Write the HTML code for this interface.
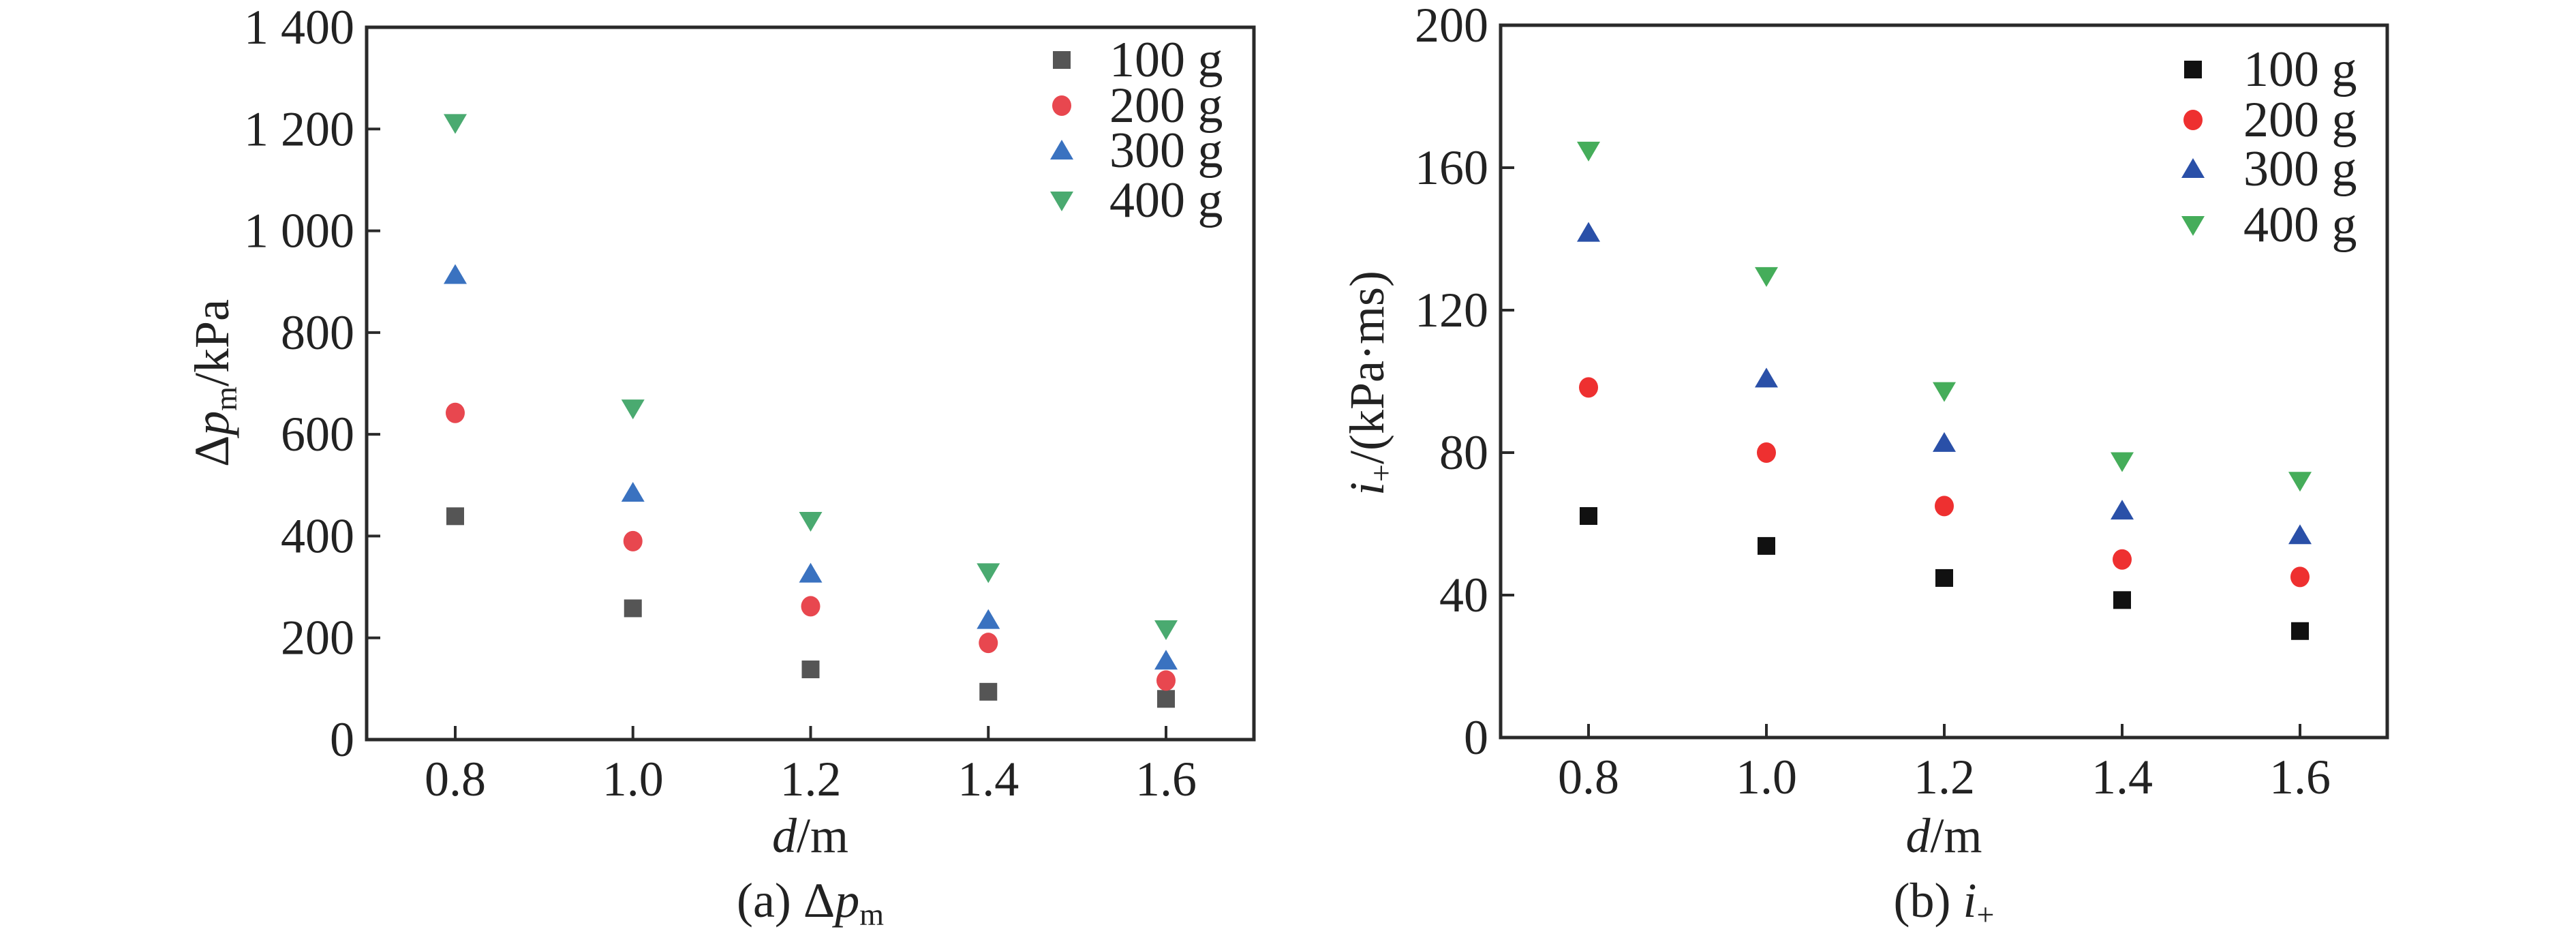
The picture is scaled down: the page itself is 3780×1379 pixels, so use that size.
<!DOCTYPE html>
<html><head><meta charset="utf-8"><style>
html,body{margin:0;padding:0;background:#fff;}
svg, svg text{font-family:"Liberation Serif","Times New Roman",serif;}
</style></head><body>
<svg id="fig" width="3780" height="1374" viewBox="0 0 3780 1374"></svg>
<script>
const categories = [0.8, 1.0, 1.2, 1.4, 1.6];
const seriesNames = ["100 g", "200 g", "300 g", "400 g"];
const dpm100 = [439, 258, 138, 94, 80];
const dpm200 = [642, 390, 262, 190, 116];
const dpm300 = [913, 485, 326, 235, 155];
const dpm400 = [1212, 651, 430, 329, 217];
const ip100 = [62.2, 53.8, 44.8, 38.6, 29.9];
const ip200 = [98.3, 80, 65, 50, 45.1];
const ip300 = [141.7, 100.8, 82.7, 63.7, 56.8];
const ip400 = [164.8, 129.6, 97.3, 77.6, 72.1];
const yTicksA = [0, 200, 400, 600, 800, 1000, 1200, 1400];
const yTickLabelsA = ["0", "200", "400", "600", "800", "1 000", "1 200", "1 400"];
const yTicksB = [0, 40, 80, 120, 160, 200];
const xTickLabels = ["0.8", "1.0", "1.2", "1.4", "1.6"];

const NS = "http://www.w3.org/2000/svg";
const svg = document.getElementById("fig");
function el(tag, attrs, parent) {
  const e = document.createElementNS(NS, tag);
  for (const k in attrs) e.setAttribute(k, attrs[k]);
  if (tag === "text") e.setAttribute("font-family", "Liberation Serif, Times New Roman, serif");
  (parent || svg).appendChild(e);
  return e;
}

function marker(g, shape, cx, cy, color) {
  let m;
  if (shape === 0) m = el("rect", {x: cx - 13, y: cy - 13, width: 26, height: 26, fill: color}, g);
  else if (shape === 1) m = el("ellipse", {cx: cx, cy: cy, rx: 14, ry: 15, fill: color}, g);
  else if (shape === 2) m = el("polygon", {points: `${cx},${cy - 16} ${cx + 17},${cy + 13} ${cx - 17},${cy + 13}`, fill: color}, g);
  else m = el("polygon", {points: `${cx - 17},${cy - 13} ${cx + 17},${cy - 13} ${cx},${cy + 16}`, fill: color}, g);
  return m;
}

function panel(cfg) {
  const g = el("g", {});
  
  
  const {L, R, T, B} = cfg;
  const xs = v => cfg.x08 + (v - 0.8) / 0.8 * (cfg.x16 - cfg.x08);
  const ys = v => B - v / cfg.ymax * (B - T);
  const frame = el("rect", {x: L, y: T, width: R - L, height: B - T, fill: "none", stroke: "#2a2a2a", "stroke-width": 5}, g);
  
  
  cfg.yTicks.forEach((v, i) => {
    const y = ys(v);
    const t = el("line", {x1: L, x2: L + 20, y1: y, y2: y, stroke: "#2a2a2a", "stroke-width": 4}, g);
    
    
    const lab = el("text", {x: L - 18, y: y + 24, "text-anchor": "end", "font-size": 72, fill: "#222"}, g);
    lab.textContent = cfg.yLabels[i];
    
    
  });
  categories.forEach((c, i) => {
    const x = xs(c);
    const t = el("line", {x1: x, x2: x, y1: B, y2: B - 20, stroke: "#2a2a2a", "stroke-width": 4}, g);
    
    
    const lab = el("text", {x: x, y: B + 82, "text-anchor": "middle", "font-size": 72, fill: "#222"}, g);
    lab.textContent = xTickLabels[i];
    
    
  });
  cfg.series.forEach((vals, s) => {
    vals.forEach((v, i) => {
      const m = marker(g, s, xs(categories[i]), ys(v), cfg.colors[s]);
      
      
    });
  });
  seriesNames.forEach((n, s) => {
    const y = cfg.legY[s];
    const m = marker(g, s, cfg.legMX, y, cfg.colors[s]);
    
    
    const t = el("text", {x: cfg.legTX, y: y + 24, "font-size": 74, fill: "#222"}, g);
    t.textContent = n;
    
    
  });
  const xt = el("text", {x: (L + R) / 2, y: 1250, "text-anchor": "middle", "font-size": 72, fill: "#222"}, g);
  xt.innerHTML = '<tspan font-style="italic">d</tspan>/m';
  
  
  const yt = el("text", {x: 0, y: 0, "text-anchor": "middle", "font-size": 72, fill: "#222", transform: `translate(${cfg.ytX},562) rotate(-90)`}, g);
  yt.innerHTML = cfg.ytHTML;
  
  
  const cap = el("text", {x: (L + R) / 2, y: 1345, "text-anchor": "middle", "font-size": 72, fill: "#222"}, g);
  cap.innerHTML = cfg.capHTML;
  
  
}

panel({name: "panel-a-pressure", L: 538, R: 1840, T: 40, B: 1085, x08: 668, x16: 1711, ymax: 1400,
  yTicks: yTicksA, yLabels: yTickLabelsA,
  series: [dpm100, dpm200, dpm300, dpm400],
  colors: ["#555555", "#e8474f", "#3a72c0", "#4aaa70"],
  legY: [88, 155, 221, 294], legMX: 1558, legTX: 1628, ytX: 335,
  ytHTML: 'Δ<tspan font-style="italic">p</tspan><tspan font-size="46" dy="12">m</tspan><tspan dy="-12">/kPa</tspan>',
  capHTML: '(a) Δ<tspan font-style="italic">p</tspan><tspan font-size="46" dy="12">m</tspan>'});

panel({name: "panel-b-impulse", L: 2202, R: 3503, T: 37, B: 1082, x08: 2331, x16: 3375, ymax: 200,
  yTicks: yTicksB, yLabels: yTicksB.map(String),
  series: [ip100, ip200, ip300, ip400],
  colors: ["#111111", "#ee3030", "#2a50a8", "#45ad5a"],
  legY: [102, 176, 248, 330], legMX: 3218, legTX: 3292, ytX: 2030,
  ytHTML: '<tspan font-style="italic">i</tspan><tspan font-size="46" dy="12">+</tspan><tspan dy="-12">/(kPa·ms)</tspan>',
  capHTML: '(b) <tspan font-style="italic">i</tspan><tspan font-size="46" dy="12">+</tspan>'});
</script>
</body></html>
